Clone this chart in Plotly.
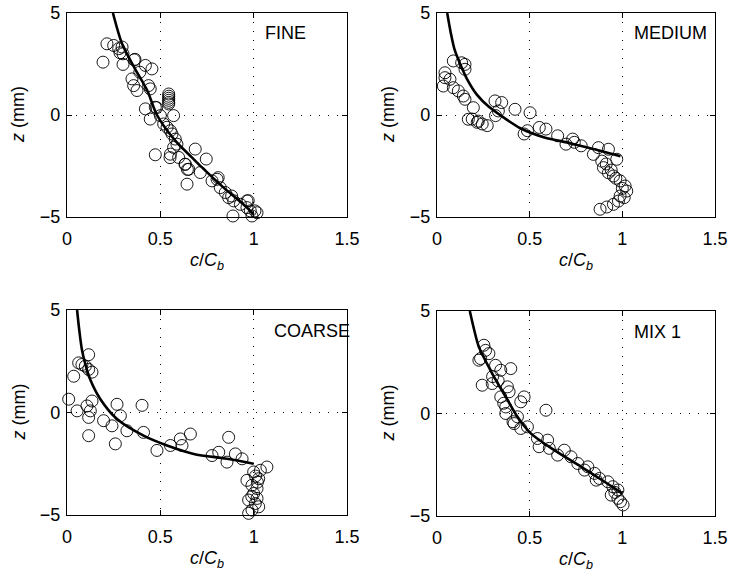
import plotly.graph_objects as go

# ---------------- data ----------------
fine_c = [0.214,0.193,0.25,0.277,0.295,0.30,0.30,0.36,0.42,0.455,0.39,0.348,0.357,0.375,0.437,0.446,
          0.545,0.545,0.545,0.545,0.545,0.545,0.42,0.446,0.473,0.50,0.571,0.518,0.536,0.554,0.5625,0.58,
          0.589,0.571,0.473,0.554,0.598,0.687,0.746,0.634,0.652,0.643,0.714,0.777,0.804,0.821,0.848,0.866,
          0.893,0.929,0.964,0.964,0.982,1.018,0.991,0.889,0.552,0.632,0.645,0.81,0.882,0.971,1.007,0.284,0.364,0.48]
fine_z = [3.49,2.59,3.41,3.25,3.33,3.0,2.48,2.7,2.43,2.26,2.1,1.77,1.44,1.2,1.44,1.28,
          1.03,0.92,0.82,0.72,0.62,0.54,0.3,-0.2,0.38,-0.03,-0.03,-0.44,-0.6,-0.77,-0.93,-1.18,
          -1.43,-1.59,-1.95,-1.92,-2.08,-1.67,-2.16,-2.41,-2.66,-3.39,-2.82,-3.23,-3.15,-3.56,-3.80,-4.05,
          -4.21,-4.38,-4.21,-4.54,-4.70,-4.79,-4.95,-4.95,-2.09,-2.42,-2.67,-3.07,-3.97,-4.2,-4.7,3.05,2.73,0.36]
fine_line_c = [0.246,0.295,0.36,0.43,0.482,0.58,0.67,0.723,0.839,0.955,1.0]
fine_line_z = [5.0,3.49,2.34,1.2,0.0,-1.26,-2.09,-2.57,-3.56,-4.46,-4.87]

med_c = [0.088,0.133,0.151,0.151,0.043,0.043,0.070,0.034,0.088,0.115,0.142,0.151,0.196,0.169,0.223,
         0.313,0.349,0.421,0.502,0.331,0.19,0.217,0.244,0.271,0.316,0.47,0.488,0.552,0.588,0.651,0.696,
         0.732,0.741,0.778,0.871,0.925,0.844,0.97,0.889,0.898,0.925,0.952,0.988,1.015,1.024,0.988,0.979,
         0.952,0.916,0.88,0.913,0.94,0.965,1.0,1.01]
med_z = [2.65,2.56,2.48,2.24,2.07,1.83,1.75,1.42,1.34,1.18,0.93,0.77,0.36,-0.21,-0.3,
         0.69,0.61,0.28,0.11,0.2,-0.2,-0.36,-0.44,-0.52,-0.03,-0.93,-0.77,-0.61,-0.69,-1.02,-1.43,
         -1.18,-1.34,-1.51,-1.6,-1.68,-1.93,-2.17,-2.26,-2.58,-2.83,-2.99,-3.23,-3.48,-3.73,-3.97,-4.22,
         -4.38,-4.51,-4.62,-2.4,-2.7,-3.1,-3.6,-4.05]
med_line_c = [0.055,0.075,0.095,0.125,0.16,0.215,0.28,0.34,0.45,0.58,0.72,0.85,0.99]
med_line_z = [5.0,4.0,3.2,2.5,1.8,1.0,0.4,0.0,-0.65,-1.1,-1.38,-1.68,-2.02]

coarse_c = [0.116,0.0625,0.08,0.098,0.116,0.134,0.036,0.009,0.134,0.107,0.054,0.125,0.116,0.116,0.196,
            0.241,0.268,0.286,0.259,0.321,0.402,0.41,0.482,0.554,0.607,0.616,0.661,0.777,0.813,0.857,
            0.866,0.902,0.938,0.964,1.0,1.036,1.071,1.027,0.991,1.018,1.0,0.973,1.018,1.009,1.027,0.991,0.973,
            1.01,1.02,0.99]
coarse_z = [2.82,2.42,2.34,2.26,2.1,1.97,1.77,0.65,0.56,0.32,0.08,0.08,-0.24,-1.13,-0.4,
            -0.65,0.4,-0.16,-1.53,-0.89,0.35,-0.97,-1.85,-1.61,-1.29,-1.61,-1.05,-2.1,-1.94,-2.42,
            -1.21,-2.02,-2.26,-3.31,-2.9,-2.82,-2.66,-3.23,-3.55,-3.71,-3.95,-4.27,-4.19,-4.44,-4.6,-4.76,-4.92,
            -3.1,-3.4,-4.1]
coarse_line_c = [0.054,0.066,0.08,0.1,0.125,0.179,0.268,0.41,0.536,0.679,0.857,1.0]
coarse_line_z = [5.0,4.0,3.06,2.3,1.6,0.65,-0.32,-1.13,-1.61,-2.02,-2.26,-2.5]

mix_c = [0.253,0.262,0.28,0.235,0.226,0.316,0.398,0.344,0.244,0.298,0.38,0.389,0.344,0.47,0.452,
         0.371,0.371,0.588,0.434,0.416,0.452,0.488,0.542,0.597,0.551,0.606,0.687,0.651,0.723,0.76,
         0.814,0.796,0.85,0.877,0.859,0.922,0.949,0.976,0.94,0.976,1.004,0.30,0.33,0.36,0.41,0.96,0.99]
mix_z = [3.33,3.08,2.92,2.68,2.6,2.35,2.19,2.11,1.38,1.46,1.3,1.06,0.81,0.81,0.57,
         0.32,0.0,0.16,-0.16,-0.49,-0.73,-0.65,-1.22,-1.3,-1.62,-1.7,-1.79,-2.03,-2.11,-2.44,
         -2.6,-2.76,-2.92,-3.17,-3.25,-3.33,-3.57,-3.73,-3.98,-4.14,-4.46,1.8,1.6,0.5,-0.4,-3.85,-4.3]
mix_line_c = [0.177,0.2,0.226,0.298,0.371,0.434,0.506,0.633,0.778,0.904,1.0]
mix_line_z = [5.0,4.1,3.25,1.95,0.81,-0.16,-0.97,-1.79,-2.6,-3.33,-3.9]

panel_names = ["FINE", "MEDIUM", "COARSE", "MIX 1"]
label_x = [1.05, 1.05, 1.1, 1.05]
label_z = [4.0, 4.0, 4.0, 4.0]
x_ticks = [0, 0.5, 1, 1.5]
x_ticktext = ["0", "0.5", "1", "1.5"]
y_ticks = [-5, 0, 5]
y_ticktext = ["\u22125", "0", "5"]

panels = [
    (fine_c, fine_z, fine_line_c, fine_line_z),
    (med_c, med_z, med_line_c, med_line_z),
    (coarse_c, coarse_z, coarse_line_c, coarse_line_z),
    (mix_c, mix_z, mix_line_c, mix_line_z),
]

W, H = 729, 577
FONT = "Liberation Sans, Arial, sans-serif"
FS = 18
# pixel boxes (left, right, top, bottom)
boxes = [(67, 347, 13, 217), (437, 715, 13, 217), (67, 347, 310, 515), (437, 715, 311, 516)]

fig = go.Figure()
layout = dict(
    width=W, height=H, margin=dict(l=0, r=0, t=0, b=0),
    paper_bgcolor="white", plot_bgcolor="white", showlegend=False,
    font=dict(family=FONT, size=FS, color="black"),
)
annotations = []
for i, ((sc, sz, lc, lz), (l, r, t, b)) in enumerate(zip(panels, boxes)):
    n = i + 1
    xa = "x" if n == 1 else f"x{n}"
    ya = "y" if n == 1 else f"y{n}"
    fig.add_trace(go.Scatter(x=sc, y=sz, mode="markers", xaxis=xa, yaxis=ya, cliponaxis=False,
                             marker=dict(symbol="circle-open", size=12, color="black",
                                         line=dict(width=0.9, color="black"))))
    fig.add_trace(go.Scatter(x=lc, y=lz, mode="lines", xaxis=xa, yaxis=ya, cliponaxis=False,
                             line=dict(color="black", width=2.6, shape="spline", smoothing=0.8)))
    axcommon = dict(showline=True, linecolor="black", linewidth=1.3, mirror="allticks",
                    ticks="inside", ticklen=5, tickcolor="black", tickwidth=1, showgrid=True,
                    gridcolor="black", griddash="1px,8px", gridwidth=1, zeroline=False,
                    automargin=False, ticklabeloverflow="allow",
                    tickfont=dict(family=FONT, size=FS, color="black"))
    layout["xaxis" + ("" if n == 1 else str(n))] = dict(
        axcommon, domain=[l / W, r / W], range=[0, 1.5], tickvals=x_ticks, ticktext=x_ticktext,
        anchor=ya, ticklabelstandoff=5)
    layout["yaxis" + ("" if n == 1 else str(n))] = dict(
        axcommon, domain=[1 - b / H, 1 - t / H], range=[-5, 5], tickvals=y_ticks, ticktext=y_ticktext,
        anchor=xa, ticklabelstandoff=2)
    annotations.append(dict(text=panel_names[i], x=label_x[i], y=label_z[i], xref=xa, yref=ya,
                            xanchor="left", yanchor="middle", showarrow=False,
                            font=dict(family=FONT, size=FS, color="black")))
    annotations.append(dict(text="<i>c</i>/<i>C<sub>b</sub></i>", x=(l + r) / 2 / W,
                            y=1 - (b + 44) / H, xref="paper", yref="paper",
                            xanchor="center", yanchor="middle", showarrow=False,
                            font=dict(family=FONT, size=FS, color="black")))
    annotations.append(dict(text="<i>z</i> (mm)", x=(l - 49) / W, y=1 - ((t + b) / 2) / H,
                            xref="paper", yref="paper", textangle=-90,
                            xanchor="center", yanchor="middle", showarrow=False,
                            font=dict(family=FONT, size=FS, color="black")))
layout["annotations"] = annotations
fig.update_layout(**layout)
fig.write_html("out.html", config={"displayModeBar": False},
               post_script="document.body.style.margin='0px';")
